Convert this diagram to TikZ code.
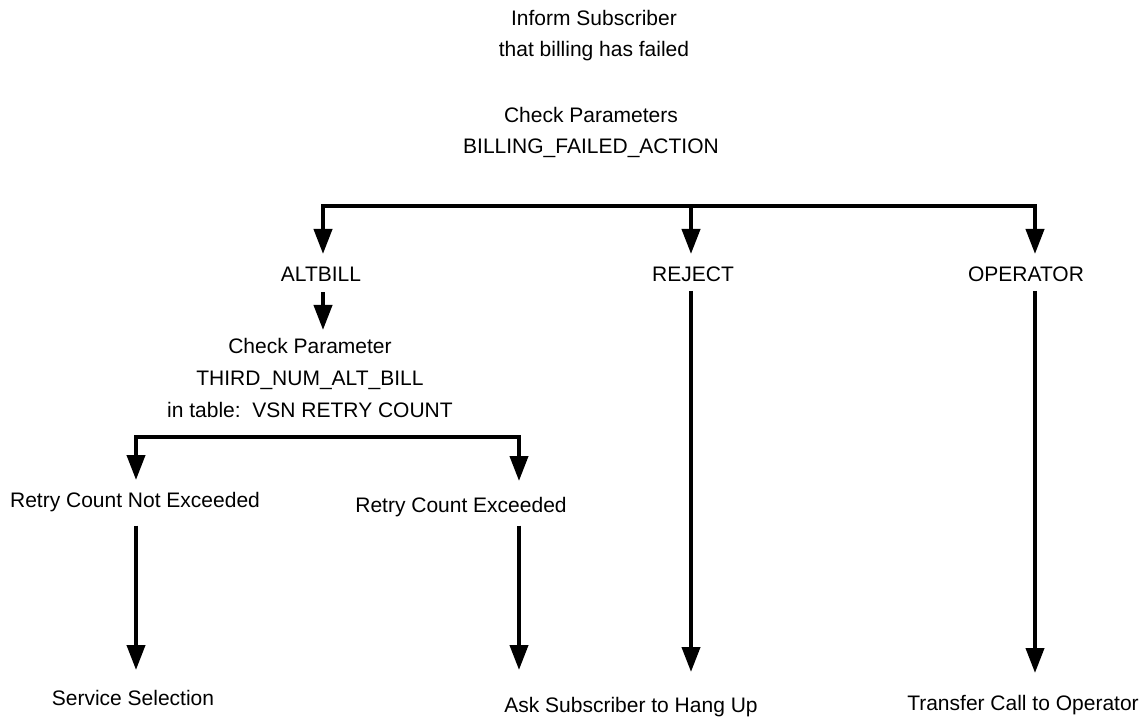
\documentclass[tikz,border=0pt]{standalone}
\usepackage{fontspec}
\setmainfont{Liberation Sans}
\usetikzlibrary{arrows.meta}
\tikzset{
  lbl/.style={inner sep=0pt, outer sep=0pt, anchor=north, align=center,
              font=\fontsize{21}{31}\selectfont},
  lbl32/.style={lbl, font=\fontsize{21}{32}\selectfont},
  tip/.tip={Triangle[length=25pt,width=18pt]},
  flow/.style={line width=4pt, -tip},
  fork/.style={line width=4pt, tip-tip, line join=miter},
}
\begin{document}
\begin{tikzpicture}[x=1pt,y=-1pt]
\useasboundingbox (0,0) rectangle (1143,719);

% heading text
\node[lbl] (inform) at (594,10) {Inform Subscriber\\that billing has failed};
\node[lbl] (check) at (591,107) {Check Parameters\\BILLING\_FAILED\_ACTION};

% first level outcomes
\node[lbl] (altbill) at (321,267) {ALTBILL};
\node[lbl] (reject) at (693,267) {REJECT};
\node[lbl] (operator) at (1026,267) {OPERATOR};

% retry count check
\node[lbl32] (retry) at (310,338) {Check Parameter\\THIRD\_NUM\_ALT\_BILL\\in table:\ \ VSN RETRY COUNT};
\node[lbl] (notexc) at (135,492) {Retry Count Not Exceeded};
\node[lbl] (exc) at (461,497) {Retry Count Exceeded};

% final actions
\node[lbl] (service) at (133,690) {Service Selection};
\node[lbl] (hangup) at (631,697) {Ask Subscriber to Hang Up};
\node[lbl] (transfer) at (1023,695) {Transfer Call to Operator};

% branch bars
\coordinate (bL) at (323,206);
\coordinate (bM) at (691,206);
\coordinate (bR) at (1035,206);
\coordinate (rL) at (136,437);
\coordinate (rR) at (519,437);

\draw[fork, shorten <=13pt, shorten >=13pt]
  (bL |- altbill.north) -- (bL) -- (bR) -- (bR |- operator.north);
\draw[flow, shorten >=13pt] (bM) -- (bM |- reject.north);

\draw[flow, shorten <=11pt, shorten >=8pt] (bL |- altbill.south) -- (bL |- retry.north);

\draw[fork, shorten <=12pt, shorten >=16pt]
  (rL |- notexc.north) -- (rL) -- (rR) -- (rR |- exc.north);

% long drops to the final actions
\draw[flow, shorten <=14pt, shorten >=20pt] (rL |- notexc.south) -- (rL |- service.north);
\draw[flow, shorten <=9pt, shorten >=27pt] (rR |- exc.south) -- (rR |- hangup.north);
\draw[flow, shorten <=9pt, shorten >=25pt] (bM |- reject.south) -- (bM |- hangup.north);
\draw[flow, shorten <=9pt, shorten >=22pt] (bR |- operator.south) -- (bR |- transfer.north);
\end{tikzpicture}
\end{document}
